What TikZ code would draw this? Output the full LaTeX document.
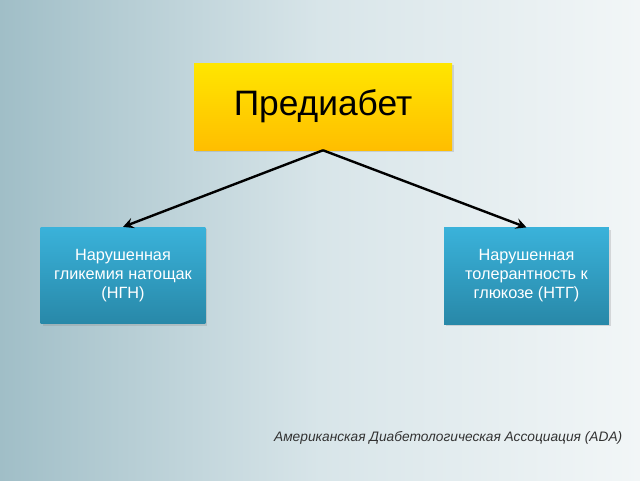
\documentclass[tikz,border=0pt]{standalone}
\usepackage{fontspec}
\setmainfont{Liberation Sans}
\usetikzlibrary{positioning,shadows,arrows.meta}

\definecolor{bgleft}{RGB}{160,190,199}
\definecolor{bgmid}{RGB}{216,229,233}
\definecolor{bgright}{RGB}{242,246,247}
\definecolor{yelltop}{RGB}{255,230,0}
\definecolor{yellbot}{RGB}{255,190,0}
\definecolor{bluetop}{RGB}{58,178,218}
\definecolor{bluebot}{RGB}{40,136,168}
\definecolor{notegray}{RGB}{50,50,50}

\tikzset{
  mainbox/.style={top color=yelltop, bottom color=yellbot, minimum width=193.5pt, minimum height=65.25pt,
    drop shadow={shadow xshift=1.5pt, shadow yshift=-1.5pt, opacity=0.25},
    font=\fontsize{26.5}{30}\selectfont},
  kindbox/.style={top color=bluetop, bottom color=bluebot, minimum width=123.5pt, minimum height=72.5pt,
    drop shadow={shadow xshift=1.5pt, shadow yshift=-1.5pt, opacity=0.25},
    text=white, align=center, font=\fontsize{12.2}{14.3}\selectfont},
  arrowline/.style={line width=1.8pt, -{Stealth[length=8pt,width=8pt,inset=3pt]}},
}

\begin{document}
\begin{tikzpicture}[x=0.75pt,y=-0.75pt]
 % background
 \shade[left color=bgleft, right color=bgright, middle color=bgmid] (0,0) rectangle (640,480);
 \useasboundingbox (0,0) rectangle (640,480);

 % boxes
 \node[mainbox] (pre) at (323,106.5) {Предиабет};
 \node[kindbox] (ngn) at (123,275.5) {Нарушенная\\гликемия натощак\\(НГН)};
 \node[kindbox] (ntg) at (526.5,276) {Нарушенная\\толерантность к\\глюкозе (НТГ)};

 \draw[arrowline] (pre.south) -- (ngn.north);
 \draw[arrowline] (pre.south) -- (ntg.north);

 \node[anchor=east, text=notegray, font=\itshape\fontsize{10.3}{12}\selectfont] (ada) at (627,438)
   {Американская Диабетологическая Ассоциация (ADA)};
\end{tikzpicture}
\end{document}
